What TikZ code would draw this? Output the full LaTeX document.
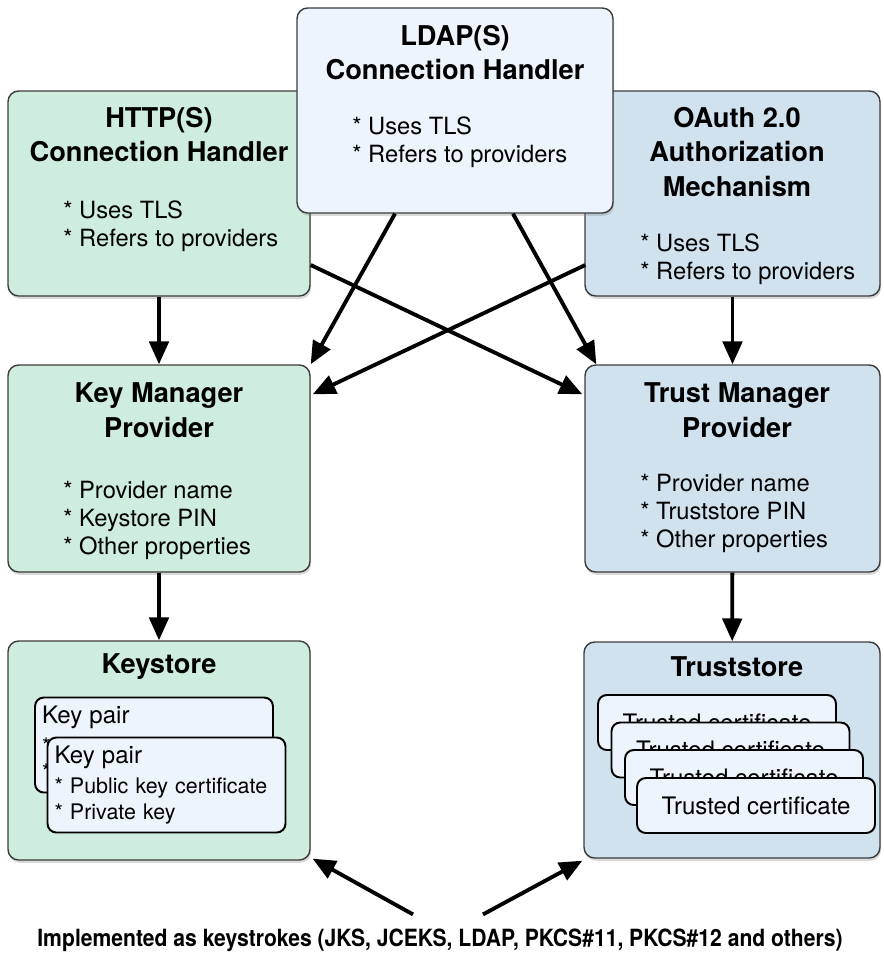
\documentclass[tikz,border=0pt]{standalone}
\usepackage{fontspec}
\setmainfont{TeX Gyre Heros}
\newfontfamily\narrowfont[FakeStretch=0.89]{TeX Gyre Heros}
\usetikzlibrary{shadows}
\usetikzlibrary{positioning}
\usetikzlibrary{arrows.meta,shapes}
\usetikzlibrary{calc}
\definecolor{mintfill}{HTML}{CFEDDE}
\definecolor{bluefill}{HTML}{D0E2EE}
\definecolor{palefill}{HTML}{EDF4FB}
\definecolor{boxline}{HTML}{3C3C3C}
\tikzstyle{box}=[rectangle,rounded corners=6pt,draw=boxline,line width=0.8pt,inner sep=0pt,drop shadow={shadow xshift=0.6pt,shadow yshift=-1.6pt,opacity=0.3}]
\tikzstyle{greenbox}=[box,fill=mintfill]
\tikzstyle{bluebox}=[box,fill=bluefill]
\tikzstyle{palebox}=[box,fill=palefill]
\tikzstyle{title}=[font=\fontsize{15.5}{19.8}\selectfont\bfseries,align=center]
\tikzstyle{bullets}=[font=\fontsize{13.5}{15.9}\selectfont,align=left,anchor=west,inner sep=0pt]
\tikzstyle{keycard}=[rectangle,rounded corners=5pt,draw=black,line width=1.1pt,fill=palefill,text width=4.48cm,inner xsep=0.14cm,minimum height=1.9cm,align=left,font=\fontsize{12.2}{14.8}\selectfont]
\tikzstyle{certcard}=[rectangle,rounded corners=5pt,draw=black,line width=1.1pt,fill=palefill,minimum width=4.76cm,minimum height=1.1cm,font=\fontsize{13.7}{16}\selectfont]
\tikzstyle{edge}=[draw,line width=2.2pt,-{Triangle[length=13pt,width=11pt]}]

\begin{document}
\begin{tikzpicture}[x=0.02cm,y=-0.02cm]
    \useasboundingbox (0,0) rectangle (883,954);

    % top row
    \node[greenbox,minimum width=6.04cm,minimum height=4.1cm] (http) at (159,193.5) {};
    \node[bluebox,minimum width=5.9cm,minimum height=4.1cm] (oauth) at (732.5,193.5) {};
    \node[palebox,minimum width=6.32cm,minimum height=4.1cm] (ldap) at (455,110.5) {};

    \node[title] (httptitle) at (159,134.5) {HTTP(S)\\Connection Handler};
    \node[bullets] (httplist) at (63,226) {{*} Uses TLS\\{*} Refers to providers};
    \node[title] (ldaptitle) at (455,52.5) {LDAP(S)\\Connection Handler};
    \node[bullets] (ldaplist) at (352,142.5) {{*} Uses TLS\\{*} Refers to providers};
    \node[title] (oauthtitle) at (737,152) {OAuth 2.0\\Authorization\\Mechanism};
    \node[bullets] (oauthlist) at (640,259) {{*} Uses TLS\\{*} Refers to providers};

    % providers
    \node[greenbox,minimum width=6.04cm,minimum height=4.14cm] (keymgr) at (159,468.5) {};
    \node[bluebox,minimum width=5.9cm,minimum height=4.14cm] (trustmgr) at (732.5,468.5) {};
    \node[title] (keymgrtitle) at (159,410) {Key Manager\\Provider};
    \node[bullets] (keymgrlist) at (63,520) {{*} Provider name\\{*} Keystore PIN\\{*} Other properties};
    \node[title] (trustmgrtitle) at (737,410) {Trust Manager\\Provider};
    \node[bullets] (trustmgrlist) at (640,513.5) {{*} Provider name\\{*} Truststore PIN\\{*} Other properties};

    % stores
    \node[greenbox,minimum width=6.04cm,minimum height=4.38cm] (keystore) at (159,750.5) {};
    \node[bluebox,minimum width=5.92cm,minimum height=4.32cm] (truststore) at (732,750) {};
    \node[title] (keystoretitle) at (159,667) {Keystore};
    \node[title] (truststoretitle) at (737,667) {Truststore};

    \foreach \pos/\name in {{(154,745)/pairA}, {(166.5,785)/pairB}}
        \node[keycard] (\name) at \pos {{\fontsize{13.7}{14.8}\selectfont Key pair}\\[2pt]{*} Public key certificate\\{*} Private key};

    \foreach \pos/\name in {{(717,722.5)/certA}, {(730.5,750)/certB}, {(744,777.5)/certC}, {(756,805.5)/certD}}
        \node[certcard] (\name) at \pos {Trusted certificate};

    \node[font=\narrowfont\bfseries\fontsize{13.5}{15}\selectfont] (impl) at (440,940) {Implemented as keystrokes (JKS, JCEKS, LDAP, PKCS\#11, PKCS\#12 and others)};

    % arrows
    \foreach \source/\dest in {http/keymgr, oauth/trustmgr, keymgr/keystore, trustmgr/truststore}
        \path[edge] (\source) -- (\dest);

    \path[edge] ($(ldap.south)+(-60,0)$) -- (keymgr.north east);
    \path[edge] ($(ldap.south)+(58,0)$) -- ($(trustmgr.north west)+(12,0)$);
    \path[edge] ($(http.east)+(0,71.5)$) -- ($(trustmgr.north west)+(-2,30)$);
    \path[edge] ($(oauth.west)+(1,71.5)$) -- ($(keymgr.north east)+(2,30)$);
    \path[edge] ($(impl.north)+(-27,-8)$) -- ($(keystore.south east)+(2,-2)$);
    \path[edge] ($(impl.north)+(43,-8)$) -- ($(truststore.south west)+(-1,2)$);

\end{tikzpicture}
\end{document}
